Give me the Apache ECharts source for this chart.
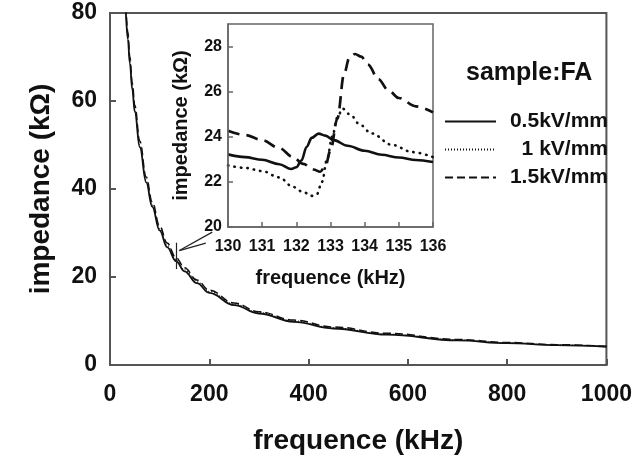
<!DOCTYPE html>
<html>
<head>
<meta charset="utf-8">
<script src="https://cdn.jsdelivr.net/npm/echarts@6/dist/echarts.min.js"></script>
<style>
  html, body { margin: 0; padding: 0; background: #fff; }
  #chart { width: 635px; height: 460px; }
</style>
</head>
<body>
<div id="chart"></div>
<script>
// ---- Data ----
const seriesNames = ['0.5kV/mm', '1 kV/mm', '1.5kV/mm'];
const legendTitle = 'sample:FA';

// Main plot (frequence kHz vs impedance kΩ)
const mainFreq   = [32, 36, 40, 45, 50, 60, 73, 85, 100, 115, 133, 150, 175, 200, 250, 300, 370, 450, 558, 700, 800, 900, 1000];
const mainSolid  = [80, 74, 68.5, 62.5, 57.5, 49.5, 41.5, 36, 30.6, 26.8, 23.6, 21.3, 18.6, 16.4, 13.6, 11.7, 9.8, 8.3, 6.9, 5.6, 4.95, 4.5, 4.15];
const mainDotted = [80.6, 74.6, 69, 63, 58, 50, 41.9, 36.4, 31, 27.2, 24.0, 21.65, 18.9, 16.7, 13.85, 11.9, 10.0, 8.45, 7.0, 5.7, 5.02, 4.55, 4.2];
const mainDashed = [81.8, 75.6, 70, 64, 59, 50.9, 42.7, 37.1, 31.6, 27.7, 24.4, 22.1, 19.3, 17.0, 14.1, 12.1, 10.2, 8.65, 7.2, 5.8, 5.12, 4.62, 4.25];

// Inset (130–136 kHz)
const insetFreqSolid = [130, 130.5, 131, 131.5, 131.85, 132.0, 132.15, 132.3, 132.45, 132.65, 132.85, 133.1, 133.5, 134, 134.5, 135, 135.5, 136];
const insetSolid     = [23.22, 23.1, 22.98, 22.78, 22.57, 22.65, 22.95, 23.55, 23.95, 24.14, 24.05, 23.85, 23.6, 23.38, 23.2, 23.08, 22.97, 22.88];
const insetFreqDotted = [130, 130.5, 131, 131.5, 131.9, 132.2, 132.45, 132.6, 132.75, 132.9, 133.05, 133.2, 133.35, 133.6, 133.85, 134.2, 134.8, 135.4, 136];
const insetDotted     = [22.73, 22.62, 22.48, 22.2, 21.78, 21.55, 21.38, 21.45, 22.0, 23.0, 24.0, 24.85, 25.25, 24.95, 24.55, 24.15, 23.64, 23.32, 23.1];
const insetFreqDashed = [130, 130.5, 131, 131.5, 131.9, 132.2, 132.5, 132.7, 132.85, 133.0, 133.2, 133.4, 133.55, 133.72, 133.9, 134.1, 134.4, 134.7, 135, 135.5, 136];
const insetDashed     = [24.27, 24.08, 23.85, 23.5, 23.1, 22.8, 22.55, 22.45, 22.7, 23.4, 24.8, 26.8, 27.5, 27.67, 27.55, 27.2, 26.55, 26.05, 25.72, 25.35, 25.08];

// Arrow annotation (data coordinates of the main plot)
const arrowLines = [
  [[139.7, 26], [206, 30.2]],
  [[139.7, 26], [193, 27.7]],
  [[133, 27.8], [133, 21.8]]
];

// ---- Chart ----
const FONT = '"Liberation Sans", Arial, Helvetica, sans-serif';
const INK = '#111';
const AXIS = '#555';
const pair = (xs, ys) => xs.map((x, i) => [x, ys[i]]);

const chart = echarts.init(document.getElementById('chart'), null, { renderer: 'canvas' });

function mainLine(name, data, lineStyle, extra) {
  return Object.assign({
    name, type: 'line', xAxisIndex: 0, yAxisIndex: 0,
    data, smooth: 0.4, smoothMonotone: 'x', showSymbol: false, symbol: 'none',
    color: INK, lineStyle: Object.assign({ color: INK }, lineStyle), z: 3
  }, extra || {});
}
function insetLine(name, data, lineStyle) {
  return {
    name, type: 'line', xAxisIndex: 1, yAxisIndex: 1,
    data, smooth: 0.35, smoothMonotone: 'x', showSymbol: false, symbol: 'none',
    color: INK, lineStyle: Object.assign({ color: INK }, lineStyle), z: 5
  };
}

const option = {
  animation: false,
  backgroundColor: '#fff',
  textStyle: { fontFamily: FONT },
  title: {
    text: legendTitle, left: 461, top: 56,
    textStyle: { fontSize: 25, fontWeight: 'bold', color: INK, fontFamily: FONT }
  },
  legend: {
    orient: 'vertical', left: 439, top: 106,
    itemWidth: 51, itemHeight: 10, itemGap: 7,
    itemStyle: { opacity: 0 },
    data: seriesNames,
    formatter: n => '{a|' + n + '}',
    textStyle: {
      fontSize: 21, fontWeight: 'bold', color: INK, fontFamily: FONT,
      rich: { a: { width: 107, align: 'right', fontSize: 21, fontWeight: 'bold', color: INK, fontFamily: FONT } }
    }
  },
  grid: [
    { left: 110, top: 13, width: 501, height: 360, show: true, borderColor: AXIS, borderWidth: 2, backgroundColor: 'transparent' },
    { left: 228, top: 24, width: 205, height: 203, show: true, borderColor: '#666', borderWidth: 1.5, backgroundColor: '#fff', z: 4 }
  ],
  xAxis: [
    {
      gridIndex: 0, type: 'value', min: 0, max: 1000, interval: 200,
      axisLine: { show: true, lineStyle: { color: AXIS, width: 2 } },
      axisTick: { show: true, inside: true, length: 6, lineStyle: { color: AXIS, width: 2 } },
      axisLabel: { margin: 18, fontSize: 23, fontWeight: 'bold', color: INK, fontFamily: FONT, formatter: v => String(v) },
      splitLine: { show: false },
      name: 'frequence (kHz)', nameLocation: 'middle', nameGap: 62,
      nameTextStyle: { fontSize: 28, fontWeight: 'bold', color: INK, fontFamily: FONT }
    },
    {
      gridIndex: 1, type: 'value', min: 130, max: 136, interval: 1,
      axisLine: { show: true, lineStyle: { color: '#666', width: 1.5 } },
      axisTick: { show: true, inside: true, length: 5, lineStyle: { color: '#666', width: 1.5 } },
      axisLabel: { margin: 12, fontSize: 16, fontWeight: 'bold', color: INK, fontFamily: FONT },
      splitLine: { show: false },
      name: 'frequence (kHz)', nameLocation: 'middle', nameGap: 41,
      nameTextStyle: { fontSize: 20, fontWeight: 'bold', color: INK, fontFamily: FONT },
      z: 6
    }
  ],
  yAxis: [
    {
      gridIndex: 0, type: 'value', min: 0, max: 80, interval: 20,
      axisLine: { show: true, lineStyle: { color: AXIS, width: 2 } },
      axisTick: { show: true, inside: true, length: 6, lineStyle: { color: AXIS, width: 2 } },
      axisLabel: { margin: 13, fontSize: 23, fontWeight: 'bold', color: INK, fontFamily: FONT },
      splitLine: { show: false },
      name: 'impedance (kΩ)', nameLocation: 'middle', nameGap: 55,
      nameTextStyle: { fontSize: 28, fontWeight: 'bold', color: INK, fontFamily: FONT }
    },
    {
      gridIndex: 1, type: 'value', min: 20, max: 29, interval: 2,
      axisLine: { show: true, lineStyle: { color: '#666', width: 1.5 } },
      axisTick: { show: true, inside: true, length: 5, lineStyle: { color: '#666', width: 1.5 } },
      axisLabel: { margin: 6, fontSize: 16, fontWeight: 'bold', color: INK, fontFamily: FONT, showMaxLabel: false },
      splitLine: { show: false },
      name: 'impedance (kΩ)', nameLocation: 'middle', nameGap: 37,
      nameTextStyle: { fontSize: 20, fontWeight: 'bold', color: INK, fontFamily: FONT },
      z: 6
    }
  ],
  series: [
    mainLine(seriesNames[0], pair(mainFreq, mainSolid), { width: 1.8, type: 'solid' }, {
      markLine: {
        silent: true, symbol: ['none', 'none'], animation: false,
        label: { show: false },
        lineStyle: { color: '#222', width: 1.2, type: 'solid' },
        emphasis: { disabled: true },
        data: arrowLines.map(l => [{ coord: l[0] }, { coord: l[1] }])
      }
    }),
    mainLine(seriesNames[1], pair(mainFreq, mainDotted), { width: 1.2, type: [1, 2] }),
    mainLine(seriesNames[2], pair(mainFreq, mainDashed), { width: 1.5, type: [8, 4] }),
    insetLine(seriesNames[0], pair(insetFreqSolid, insetSolid), { width: 2.6, type: 'solid' }),
    insetLine(seriesNames[1], pair(insetFreqDotted, insetDotted), { width: 2.6, type: [0.5, 6], cap: 'round' }),
    insetLine(seriesNames[2], pair(insetFreqDashed, insetDashed), { width: 2.7, type: [12, 7] })
  ]
};
chart.setOption(option);
</script>
</body>
</html>
